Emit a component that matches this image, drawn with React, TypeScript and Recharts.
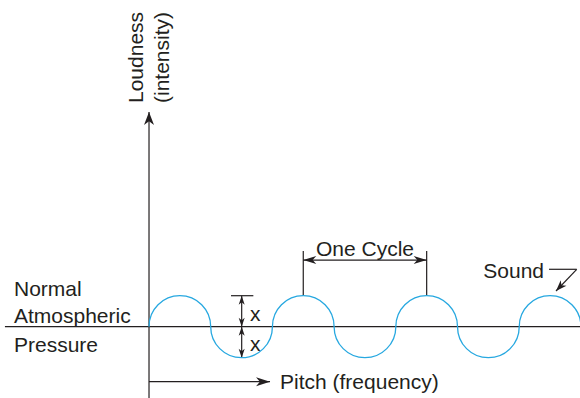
import React from 'react';
import { ComposedChart, Line, XAxis, YAxis, ReferenceLine, ReferenceDot } from 'recharts';

// Wave: zero crossings and crests, in half-cycle units along x, amplitude units along y
const wavePhase = [0, 0.5, 1, 1.5, 2, 2.5, 3, 3.5, 4, 4.5, 5, 5.5, 6, 6.5, 7];
const waveLevel = [0, 1, 0, -1, 0, 1, 0, -1, 0, 1, 0, -1, 0, 1, 0];
const waveData = wavePhase.map((x, i) => ({ x, y: waveLevel[i] }));

const yAxisTitle = ['Loudness', '(intensity)'];
const xAxisTitle = 'Pitch (frequency)';
const baselineTitle = ['Normal', 'Atmospheric', 'Pressure'];
const cycleTitle = 'One Cycle';
const amplitudeTitle = 'x';
const seriesTitle = 'Sound';

const X_DOMAIN: [number, number] = [-2.415, 6.985];
const Y_DOMAIN: [number, number] = [-2.3, 10.539];

const INK = '#231f20';
const WAVE = '#27a8e0';
const FONT = '"Liberation Sans", Arial, Helvetica, sans-serif';
const FS = 21;

function arcCurve(context: any) {
  let pts: number[][] = [];
  const K = 0.5523;
  return {
    areaStart() {},
    areaEnd() {},
    lineStart() {
      pts = [];
    },
    point(x: number, y: number) {
      pts.push([+x, +y]);
    },
    lineEnd() {
      if (!pts.length) return;
      context.moveTo(pts[0][0], pts[0][1]);
      for (let i = 1; i < pts.length; i++) {
        const [x0, y0] = pts[i - 1];
        const [x1, y1] = pts[i];
        if ((i - 1) % 2 === 0) {
          context.bezierCurveTo(x0, y0 + K * (y1 - y0), x1 - K * (x1 - x0), y1, x1, y1);
        } else {
          context.bezierCurveTo(x0 + K * (x1 - x0), y0, x1, y1 - K * (y1 - y0), x1, y1);
        }
      }
    },
  };
}

function Head({ x, y, fx, fy, len, wid }: any) {
  const a = (Math.atan2(y - fy, x - fx) * 180) / Math.PI;
  return (
    <path
      d={`M0,0 L${-len},${-wid / 2} L${-len * 0.72},0 L${-len},${wid / 2} Z`}
      fill={INK}
      transform={`translate(${x},${y}) rotate(${a})`}
    />
  );
}

const arrowShape = (start: boolean, end: boolean, len = 13, wid = 9) => (p: any) => (
  <g>
    <line x1={p.x1} y1={p.y1} x2={p.x2} y2={p.y2} stroke={INK} strokeWidth={1.2} />
    {end && <Head x={p.x2} y={p.y2} fx={p.x1} fy={p.y1} len={len} wid={wid} />}
    {start && <Head x={p.x1} y={p.y1} fx={p.x2} fy={p.y2} len={len} wid={wid} />}
  </g>
);

const textShape = (text: string, anchor: string = 'start', rotate = false) => (p: any) => (
  <text
    x={p.cx}
    y={p.cy}
    fill={INK}
    fontFamily={FONT}
    fontSize={FS}
    textAnchor={anchor as any}
    transform={rotate ? `rotate(-90, ${p.cx}, ${p.cy})` : undefined}
  >
    {text}
  </text>
);

export default function App() {
  return (
    <div style={{ position: 'absolute', left: 0, top: 0, width: 580, height: 398, background: '#fff' }}>
      <ComposedChart width={580} height={398} margin={{ top: 0, right: 0, bottom: 0, left: 0 }}>
        <XAxis type="number" dataKey="x" domain={X_DOMAIN} allowDataOverflow hide />
        <YAxis type="number" dataKey="y" domain={Y_DOMAIN} allowDataOverflow hide />

        {/* baseline (normal atmospheric pressure) */}
        <ReferenceLine
          ifOverflow="visible"
          segment={[{ x: -2.335, y: 0 }, { x: 6.985, y: 0 }]}
          shape={arrowShape(false, false)}
        />
        {/* vertical axis */}
        <ReferenceLine
          ifOverflow="visible"
          segment={[{ x: 0, y: -2.3 }, { x: 0, y: 6.926 }]}
          shape={arrowShape(false, true, 13, 10)}
        />
        {/* pitch arrow */}
        <ReferenceLine
          ifOverflow="visible"
          segment={[{ x: 0, y: -1.774 }, { x: 1.961, y: -1.774 }]}
          shape={arrowShape(false, true, 14, 9)}
        />
        {/* one cycle markers */}
        <ReferenceLine
          ifOverflow="visible"
          segment={[{ x: 2.5, y: 1 }, { x: 2.5, y: 2.44 }]}
          shape={arrowShape(false, false)}
        />
        <ReferenceLine
          ifOverflow="visible"
          segment={[{ x: 4.5, y: 1 }, { x: 4.5, y: 2.44 }]}
          shape={arrowShape(false, false)}
        />
        <ReferenceLine
          ifOverflow="visible"
          segment={[{ x: 2.5, y: 2.15 }, { x: 4.5, y: 2.15 }]}
          shape={arrowShape(true, true, 13, 8)}
        />
        {/* amplitude markers */}
        <ReferenceLine
          ifOverflow="visible"
          segment={[{ x: 1.329, y: 1 }, { x: 1.691, y: 1 }]}
          shape={arrowShape(false, false)}
        />
        <ReferenceLine
          ifOverflow="visible"
          segment={[{ x: 1.502, y: 1 }, { x: 1.502, y: 0 }]}
          shape={arrowShape(true, true, 9, 6)}
        />
        <ReferenceLine
          ifOverflow="visible"
          segment={[{ x: 1.502, y: 0 }, { x: 1.502, y: -1 }]}
          shape={arrowShape(true, true, 9, 6)}
        />
        {/* sound leader */}
        <ReferenceLine
          ifOverflow="visible"
          segment={[{ x: 6.483, y: 1.852 }, { x: 6.932, y: 1.852 }]}
          shape={arrowShape(false, false)}
        />
        <ReferenceLine
          ifOverflow="visible"
          segment={[{ x: 6.932, y: 1.852 }, { x: 6.596, y: 1.152 }]}
          shape={arrowShape(false, true, 11, 8)}
        />

        <Line
          data={waveData}
          dataKey="y"
          type={arcCurve as any}
          stroke={WAVE}
          strokeWidth={1.3}
          dot={false}
          activeDot={false}
          isAnimationActive={false}
        />

        <ReferenceDot ifOverflow="visible" x={-0.097} y={7.216} r={0} shape={textShape(yAxisTitle[0], 'start', true)} />
        <ReferenceDot ifOverflow="visible" x={0.322} y={7.216} r={0} shape={textShape(yAxisTitle[1], 'start', true)} />
        <ReferenceDot ifOverflow="visible" x={2.123} y={-2.01} r={0} shape={textShape(xAxisTitle)} />
        <ReferenceDot ifOverflow="visible" x={-2.188} y={0.99} r={0} shape={textShape(baselineTitle[0])} />
        <ReferenceDot ifOverflow="visible" x={-2.188} y={0.11} r={0} shape={textShape(baselineTitle[1])} />
        <ReferenceDot ifOverflow="visible" x={-2.188} y={-0.806} r={0} shape={textShape(baselineTitle[2])} />
        <ReferenceDot ifOverflow="visible" x={3.5} y={2.29} r={0} shape={textShape(cycleTitle, 'middle')} />
        <ReferenceDot ifOverflow="visible" x={1.637} y={0.19} r={0} shape={textShape(amplitudeTitle)} />
        <ReferenceDot ifOverflow="visible" x={1.637} y={-0.774} r={0} shape={textShape(amplitudeTitle)} />
        <ReferenceDot ifOverflow="visible" x={5.418} y={1.58} r={0} shape={textShape(seriesTitle)} />
      </ComposedChart>
    </div>
  );
}
